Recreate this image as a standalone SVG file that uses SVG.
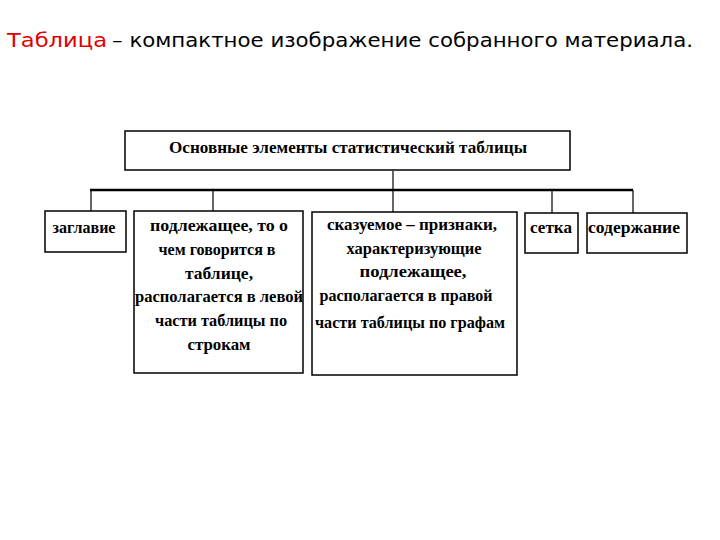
<svg xmlns="http://www.w3.org/2000/svg" width="720" height="540" viewBox="0 0 720 540">
<style>
.box{fill:#fff;stroke:#000;stroke-width:1.5}
.t{font-family:"Liberation Serif","Times New Roman",serif;font-weight:bold;font-size:16px;fill:#000;text-anchor:middle}
.c{stroke:#000;fill:none}
.title{font-family:"DejaVu Sans","Noto Sans",sans-serif;font-size:19px}
</style>
<rect width="720" height="540" fill="#fff"/>
<text class="title" x="7" y="47" fill="#e00000" textLength="100" lengthAdjust="spacingAndGlyphs">Таблица</text>
<text class="title" x="112" y="47" fill="#000" textLength="581" lengthAdjust="spacingAndGlyphs">– компактное изображение собранного материала.</text>
<g id="connectors">
<line class="c" x1="90" y1="190" x2="633" y2="190" stroke-width="2.5"/>
<line class="c" x1="393" y1="171" x2="393" y2="212" stroke-width="1.2"/>
<line class="c" x1="91" y1="190" x2="91" y2="211" stroke-width="1.2"/>
<line class="c" x1="213" y1="190" x2="213" y2="211" stroke-width="1.2"/>
<line class="c" x1="552" y1="190" x2="552" y2="213" stroke-width="1.2"/>
<line class="c" x1="633" y1="190" x2="633" y2="213" stroke-width="1.2"/>
</g>
<g id="main">
<rect class="box" x="125" y="131" width="445" height="39" stroke-width="2"/>
<text class="t" x="348" y="153" textLength="358" lengthAdjust="spacingAndGlyphs">Основные элементы статистический таблицы</text>
</g>
<g id="zaglavie">
<rect class="box" x="45" y="211" width="81" height="41"/>
<text class="t" x="84" y="233" textLength="63" lengthAdjust="spacingAndGlyphs">заглавие</text>
</g>
<g id="podlezhashchee">
<rect class="box" x="134" y="211" width="169" height="162"/>
<text class="t" x="219" y="231" textLength="138" lengthAdjust="spacingAndGlyphs">подлежащее, то о</text>
<text class="t" x="217" y="255" textLength="117" lengthAdjust="spacingAndGlyphs">чем говорится в</text>
<text class="t" x="219" y="279" textLength="68" lengthAdjust="spacingAndGlyphs">таблице,</text>
<text class="t" x="219" y="302" textLength="168" lengthAdjust="spacingAndGlyphs">располагается в левой</text>
<text class="t" x="221" y="326" textLength="132" lengthAdjust="spacingAndGlyphs">части таблицы по</text>
<text class="t" x="219" y="350" textLength="63" lengthAdjust="spacingAndGlyphs">строкам</text>
</g>
<g id="skazuemoe">
<rect class="box" x="312" y="212" width="205" height="163" stroke-width="2.5"/>
<text class="t" x="412" y="230" textLength="170" lengthAdjust="spacingAndGlyphs">сказуемое – признаки,</text>
<text class="t" x="414" y="254" textLength="135" lengthAdjust="spacingAndGlyphs">характеризующие</text>
<text class="t" x="413" y="277" textLength="107" lengthAdjust="spacingAndGlyphs">подлежащее,</text>
<text class="t" x="406" y="301" textLength="173" lengthAdjust="spacingAndGlyphs">располагается в правой</text>
<text class="t" x="410" y="328" textLength="190" lengthAdjust="spacingAndGlyphs">части таблицы по графам</text>
</g>
<g id="setka">
<rect class="box" x="525" y="213" width="53" height="40" stroke-width="1.2"/>
<text class="t" x="551" y="233" textLength="42" lengthAdjust="spacingAndGlyphs">сетка</text>
</g>
<g id="soderzhanie">
<rect class="box" x="587" y="213" width="100" height="40" stroke-width="1.2"/>
<text class="t" x="634" y="233" textLength="92" lengthAdjust="spacingAndGlyphs">содержание</text>
</g>
</svg>
